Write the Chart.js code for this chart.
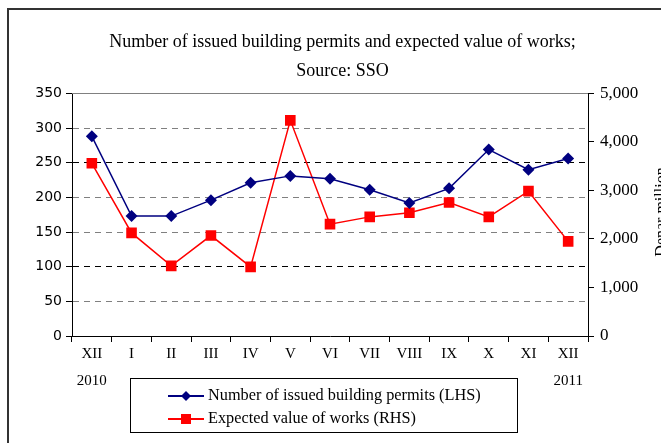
<!DOCTYPE html>
<html>
<head>
<meta charset="utf-8">
<script src="https://cdn.jsdelivr.net/npm/chart.js@4"></script>
<style>
  html, body { margin: 0; padding: 0; background: #fff; overflow: hidden; }
  #wrap { position: absolute; left: 0; top: 0; width: 661px; height: 443px; }
</style>
</head>
<body>
<div id="wrap"><canvas id="chart" width="661" height="443"></canvas></div>
<script>
const months = ["XII", "I", "II", "III", "IV", "V", "VI", "VII", "VIII", "IX", "X", "XI", "XII"];
const years = ["2010", "", "", "", "", "", "", "", "", "", "", "", "2011"];
const permits = [288, 173, 173, 196, 221, 231, 227, 211, 192, 213, 269, 240, 256];
const worksValue = [3560, 2125, 1445, 2070, 1425, 4445, 2305, 2455, 2540, 2750, 2455, 2985, 1950];

const serif = "'Liberation Serif', 'DejaVu Serif', serif";
const sans = "'DejaVu Sans', sans-serif";

const frameAndLegend = {
  id: "frameAndLegend",
  beforeDraw(chart) {
    const { ctx } = chart;
    ctx.save();
    ctx.strokeStyle = "#333";
    ctx.lineWidth = 2;
    ctx.strokeRect(8, 9, 700, 500);
    ctx.restore();
  },
  beforeDatasetsDraw(chart) {
    // solid grey line along the top of the plot area
    const { ctx, chartArea } = chart;
    ctx.save();
    ctx.strokeStyle = "#808080";
    ctx.lineWidth = 1;
    ctx.beginPath();
    ctx.moveTo(chartArea.left, Math.round(chartArea.top) + 0.5);
    ctx.lineTo(chartArea.right, Math.round(chartArea.top) + 0.5);
    ctx.stroke();
    ctx.restore();
  },
  afterDraw(chart) {
    const { ctx } = chart;
    ctx.save();
    // legend box
    ctx.strokeStyle = "#000";
    ctx.lineWidth = 1;
    ctx.strokeRect(130.5, 378.5, 387, 54);
    const rows = [
      { y: 396, color: "#000080", style: "diamond", text: "Number of issued building permits (LHS)" },
      { y: 419, color: "#ff0000", style: "square", text: "Expected value of works (RHS)" },
    ];
    rows.forEach((r) => {
      ctx.strokeStyle = r.color;
      ctx.lineWidth = 2;
      ctx.beginPath();
      ctx.moveTo(168, r.y);
      ctx.lineTo(204, r.y);
      ctx.stroke();
      ctx.fillStyle = r.color;
      ctx.beginPath();
      if (r.style === "diamond") {
        ctx.moveTo(186, r.y - 5);
        ctx.lineTo(191, r.y);
        ctx.lineTo(186, r.y + 5);
        ctx.lineTo(181, r.y);
        ctx.closePath();
      } else {
        ctx.rect(181, r.y - 5, 10, 10);
      }
      ctx.fill();
      ctx.fillStyle = "#000";
      ctx.font = "16.3px " + serif;
      ctx.textBaseline = "middle";
      ctx.textAlign = "left";
      ctx.fillText(r.text, 208, r.y);
    });
    // right axis title, reading bottom to top
    ctx.translate(662, 212);
    ctx.rotate(-Math.PI / 2);
    ctx.font = "16px " + serif;
    ctx.textAlign = "center";
    ctx.textBaseline = "middle";
    ctx.fillText("Denar million", 0, 0);
    ctx.restore();
  },
};

new Chart(document.getElementById("chart"), {
  type: "line",
  data: {
    labels: months.map((m, i) => [m, years[i]]),
    datasets: [
      {
        label: "Number of issued building permits (LHS)",
        data: permits,
        yAxisID: "y",
        borderColor: "#000080",
        backgroundColor: "#000080",
        borderWidth: 1.5,
        pointStyle: "rectRot",
        pointRadius: 6,
        pointBorderWidth: 0,
        tension: 0,
      },
      {
        label: "Expected value of works (RHS)",
        data: worksValue,
        yAxisID: "y1",
        borderColor: "#ff0000",
        backgroundColor: "#ff0000",
        borderWidth: 1.5,
        pointStyle: "rect",
        pointRadius: 7.5,
        pointBorderWidth: 0,
        tension: 0,
      },
    ],
  },
  plugins: [frameAndLegend],
  options: {
    responsive: false,
    animation: false,
    // the original frame runs past the right edge, so the title sits right of centre
    layout: { padding: { left: 24, right: 0, top: 0, bottom: 0 } },
    plugins: {
      legend: { display: false },
      tooltip: { enabled: false },
      title: {
        display: true,
        text: ["Number of issued building permits and expected value of works;", "Source: SSO"],
        color: "#000",
        font: { family: serif, size: 18, weight: "normal", lineHeight: 1.65 },
        padding: { top: 27, bottom: 7 },
      },
    },
    scales: {
      x: {
        offset: true,
        afterFit: (scale) => { scale.height = 107; },
        grid: {
          offset: true,
          drawOnChartArea: false,
          tickLength: 6,
          tickColor: "#000",
        },
        border: { color: "#000", width: 1 },
        ticks: {
          color: "#000",
          font: { family: serif, size: 15, lineHeight: 1.8 },
          padding: -1,
          maxRotation: 0,
          autoSkip: false,
        },
      },
      y: {
        position: "left",
        min: 0,
        max: 350,
        afterFit: (scale) => { scale.width = 48; },
        ticks: {
          stepSize: 50,
          color: "#000",
          font: { family: sans, size: 14 },
          padding: 4,
        },
        grid: {
          color: (ctx) => {
            const v = ctx.tick.value;
            if (v === 0 || v === 350) return "rgba(0,0,0,0)";
            return v === 250 || v === 100 ? "#000" : "#808080";
          },
          tickColor: "#000",
          tickLength: 6,
          tickBorderDash: [],
        },
        border: { color: "#000", width: 1, dash: [6, 5] },
      },
      y1: {
        position: "right",
        min: 0,
        max: 5000,
        afterFit: (scale) => { scale.width = 73; },
        ticks: {
          stepSize: 1000,
          color: "#000",
          font: { family: serif, size: 17 },
          padding: 6,
          callback: (v) => v.toLocaleString("en-US"),
        },
        grid: {
          drawOnChartArea: false,
          tickColor: "#000",
          tickLength: 6,
        },
        border: { color: "#000", width: 1 },
      },
    },
  },
});
</script>
</body>
</html>
